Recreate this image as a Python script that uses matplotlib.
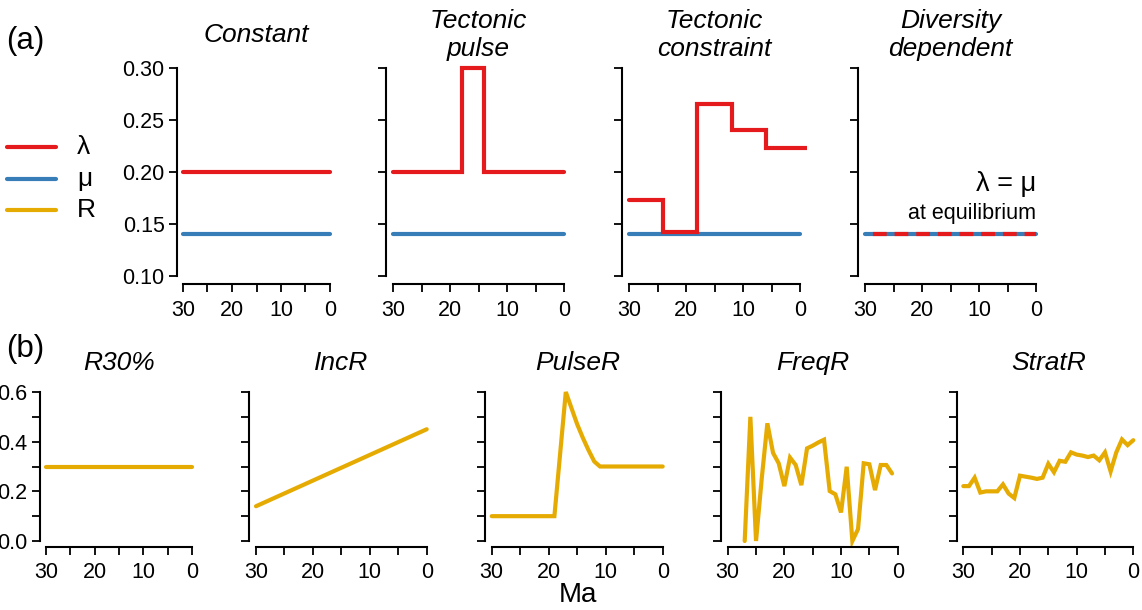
import matplotlib
matplotlib.use("Agg")
import matplotlib.pyplot as plt
from matplotlib.ticker import FixedLocator, FormatStrFormatter, NullFormatter
from matplotlib.lines import Line2D

plt.rcParams['font.family'] = ['Liberation Sans', 'DejaVu Sans']

RED = '#E41A1C'
BLUE = '#377EB8'
GOLD = '#E6AB02'

# ---- (a) speciation / extinction scenarios ----
rate_titles = ['Constant', 'Tectonic\npulse', 'Tectonic\nconstraint', 'Diversity\ndependent']
mu_rate = 0.14
lam_constant = 0.20

pulse_breaks = [30, 18, 14, 0]
pulse_lambda = [0.20, 0.30, 0.20, 0.20]

constraint_breaks = [30, 24, 18, 12, 6]
constraint_lambda = [0.1735, 0.1425, 0.265, 0.240, 0.223]

equilibrium_rate = 0.14

# ---- (b) preservation scenarios ----
pres_titles = ['R30%', 'IncR', 'PulseR', 'FreqR', 'StratR']

r30_ma = [30, 0]
r30_val = [0.30, 0.30]

inc_ma = [30, 0]
inc_val = [0.14, 0.45]

pulse_r_ma = [30, 19, 17, 16, 15, 14, 13, 12, 11, 0]
pulse_r_val = [0.10, 0.10, 0.60, 0.535, 0.47, 0.415, 0.365, 0.32, 0.30, 0.30]

freq_ma = [27, 26, 25, 24, 23, 22, 21, 20, 19, 18, 17, 16, 15, 14, 13, 12, 11,
           10, 9, 8, 7, 6, 5, 4, 3, 2, 1]
freq_val = [0.0, 0.50, 0.0, 0.25, 0.474, 0.355, 0.313, 0.221, 0.336, 0.306,
            0.225, 0.373, 0.384, 0.397, 0.408, 0.201, 0.188, 0.115, 0.299,
            0.0, 0.048, 0.313, 0.309, 0.205, 0.306, 0.306, 0.272]

strat_ma = list(range(30, -1, -1))
strat_val = [0.221, 0.221, 0.255, 0.195, 0.200, 0.200, 0.200, 0.228, 0.191,
             0.173, 0.263, 0.259, 0.255, 0.250, 0.255, 0.311, 0.277, 0.323,
             0.319, 0.357, 0.348, 0.344, 0.338, 0.344, 0.325, 0.357, 0.280,
             0.357, 0.409, 0.386, 0.406]

W, H = 1142, 610
fig = plt.figure(figsize=(W / 100, H / 100), dpi=100)

LW = 3.0
TICK_FS = 15.5
TITLE_FS = 19


def make_axes(x30, x0, ytop_px, ybot_px, ylo, yhi):
    """Axes whose data range [30..0] x [ylo..yhi] sits at the given pixels,
    with R-style 4% padding around the data range."""
    ux = (x0 - x30) / 30.0
    uy = (ybot_px - ytop_px) / (yhi - ylo)
    px = 1.2 * ux
    py = 0.04 * (yhi - ylo) * uy
    left = x30 - px
    right = x0 + px
    top = ytop_px - py
    bottom = ybot_px + py
    ax = fig.add_axes([left / W, 1 - bottom / H, (right - left) / W, (bottom - top) / H])
    ax.set_xlim(31.2, -1.2)
    pad = 0.04 * (yhi - ylo)
    ax.set_ylim(ylo - pad, yhi + pad)
    for s in ('top', 'right'):
        ax.spines[s].set_visible(False)
    ax.spines['left'].set_bounds(ylo, yhi)
    ax.spines['bottom'].set_bounds(0, 30)
    for s in ('left', 'bottom'):
        ax.spines[s].set_linewidth(1.5)
    ax.xaxis.set_major_locator(FixedLocator([30, 20, 10, 0]))
    ax.xaxis.set_minor_locator(FixedLocator([25, 15, 5]))
    ax.xaxis.set_major_formatter(FormatStrFormatter('%d'))
    ax.tick_params(which='both', direction='out', length=6, width=1.3,
                   labelsize=TICK_FS, color='black')
    ax.tick_params(axis='x', which='both', pad=5)
    ax.tick_params(axis='y', which='both', pad=3)
    ax.set_facecolor('none')
    return ax


def panel_title(ax, text, y_px):
    bb = ax.get_position()
    fig.text(bb.x0 + bb.width / 2, 1 - y_px / H, text, ha='center', va='center',
             fontsize=TITLE_FS, style='italic', linespacing=1.2)


line_kw = dict(lw=LW, solid_capstyle='round', solid_joinstyle='miter')

# top row
top_x30 = [183, 393.3, 629, 865]
top_x0 = [330, 564, 800, 1036]
top_axes = []
for i in range(4):
    ax = make_axes(top_x30[i], top_x0[i], 68, 276, 0.10, 0.30)
    ax.yaxis.set_major_locator(FixedLocator([0.10, 0.15, 0.20, 0.25, 0.30]))
    if i == 0:
        ax.yaxis.set_major_formatter(FormatStrFormatter('%.2f'))
    else:
        ax.yaxis.set_major_formatter(NullFormatter())
    panel_title(ax, rate_titles[i], 35)
    top_axes.append(ax)

ax = top_axes[0]
ax.plot([30, 0], [lam_constant, lam_constant], color=RED, **line_kw)
ax.plot([30, 0], [mu_rate, mu_rate], color=BLUE, **line_kw)

ax = top_axes[1]
ax.plot([30, 0], [mu_rate, mu_rate], color=BLUE, **line_kw)
ax.step(pulse_breaks, pulse_lambda, where='post', color=RED, **line_kw)

ax = top_axes[2]
ax.plot([30, 0], [mu_rate, mu_rate], color=BLUE, **line_kw)
cx = constraint_breaks + [ax.get_xlim()[1]]
cy = constraint_lambda + [constraint_lambda[-1]]
ax.step(cx, cy, where='post', color=RED, **line_kw)

ax = top_axes[3]
ax.plot([30, 0], [equilibrium_rate, equilibrium_rate], color=BLUE, **line_kw)
ax.plot([30, 0], [equilibrium_rate, equilibrium_rate], color=RED, lw=LW,
        linestyle=(3.3, (3.3, 1.9)), dash_capstyle='butt')
ax.text(0, 0.1885, 'λ = μ', ha='right', va='center', fontsize=19.5)
ax.text(0, 0.160, 'at equilibrium', ha='right', va='center', fontsize=15.5)

# bottom row
bot_x30 = [46, 256, 491.7, 727.7, 963.3]
bot_x0 = [192, 426.7, 662.7, 897.7, 1133.3]
bot_axes = []
for i in range(5):
    ax = make_axes(bot_x30[i], bot_x0[i], 392, 541, 0.0, 0.6)
    ax.yaxis.set_major_locator(FixedLocator([0.0, 0.2, 0.4, 0.6]))
    ax.yaxis.set_minor_locator(FixedLocator([0.1, 0.3, 0.5]))
    if i == 0:
        ax.yaxis.set_major_formatter(FormatStrFormatter('%.1f'))
    else:
        ax.yaxis.set_major_formatter(NullFormatter())
    panel_title(ax, pres_titles[i], 363)
    bot_axes.append(ax)

series = [(r30_ma, r30_val), (inc_ma, inc_val), (pulse_r_ma, pulse_r_val),
          (freq_ma, freq_val), (strat_ma, strat_val)]
for ax, (xs, ys) in zip(bot_axes, series):
    ax.plot(xs, ys, color=GOLD, **line_kw)

# panel letters and shared axis label
fig.text(6 / W, 1 - 41 / H, '(a)', ha='left', va='center', fontsize=22.5)
fig.text(6 / W, 1 - 349 / H, '(b)', ha='left', va='center', fontsize=22.5)
fig.text(578 / W, 1 - 595 / H, 'Ma', ha='center', va='center', fontsize=20)

# legend
legend_labels = ['λ', 'μ', 'R']
legend_colors = [RED, BLUE, GOLD]
legend_y = [147, 179, 210]
for lab, col, yy in zip(legend_labels, legend_colors, legend_y):
    fig.add_artist(Line2D([7 / W, 56 / W], [1 - yy / H, 1 - yy / H], color=col,
                          lw=LW, solid_capstyle='round', transform=fig.transFigure))
    fig.text(77 / W, 1 - yy / H, lab, ha='left', va='center', fontsize=19)

fig.savefig('out.png', dpi=100)
